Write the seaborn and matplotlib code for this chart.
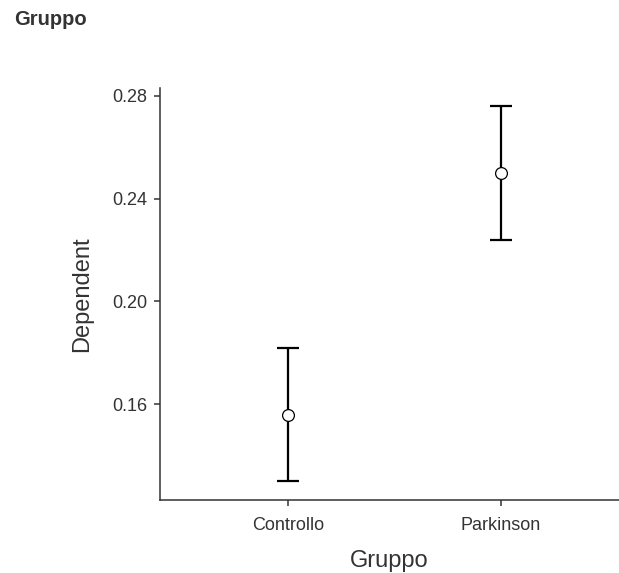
import matplotlib
matplotlib.use("Agg")
import matplotlib.pyplot as plt
import seaborn as sns
import pandas as pd

# Group means and their error margins
groups = ["Controllo", "Parkinson"]
means = [0.156, 0.250]
errors = [0.026, 0.026]
y_ticks = [0.16, 0.20, 0.24, 0.28]

sns.set_theme(style="ticks")
plt.rcParams["font.family"] = ["Liberation Sans", "DejaVu Sans"]

ink = "#333333"
df = pd.DataFrame({"Gruppo": groups, "Dependent": means, "err": errors})

fig = plt.figure(figsize=(6.19, 5.73), dpi=100)
ax = fig.add_axes([160 / 619, 73 / 573, 459 / 619, 412 / 573])

ax.errorbar(x=range(len(groups)), y=df["Dependent"], yerr=df["err"],
            fmt="none", ecolor="black", elinewidth=1.6, capsize=7.6,
            capthick=1.6, zorder=2)
sns.pointplot(data=df, x="Gruppo", y="Dependent", errorbar=None,
              linestyle="none", marker="o", markersize=8.5,
              markerfacecolor="white", markeredgecolor="black",
              markeredgewidth=0.9, color="black", ax=ax, zorder=5)

ax.set_xlim(-0.601, 1.554)
ax.set_ylim(0.1228, 0.283)
ax.set_yticks(y_ticks)
ax.set_yticklabels([f"{v:.2f}" for v in y_ticks])

for side in ["top", "right"]:
    ax.spines[side].set_visible(False)
for side in ["left", "bottom"]:
    ax.spines[side].set_color(ink)
    ax.spines[side].set_linewidth(1.1)

ax.tick_params(axis="both", colors=ink, labelcolor=ink, labelsize=13,
               length=4, width=1.1, direction="out")
ax.tick_params(axis="x", pad=8)
ax.tick_params(axis="y", pad=5)
ax.set_xlabel("Gruppo", fontsize=17, color=ink, labelpad=12)
ax.set_ylabel("Dependent", fontsize=17, color=ink, labelpad=14)

fig.text(14 / 619, 1 - 10 / 573, "Gruppo", fontsize=14.5, fontweight="bold",
         color=ink, ha="left", va="top")

fig.savefig("out.png", dpi=100)
